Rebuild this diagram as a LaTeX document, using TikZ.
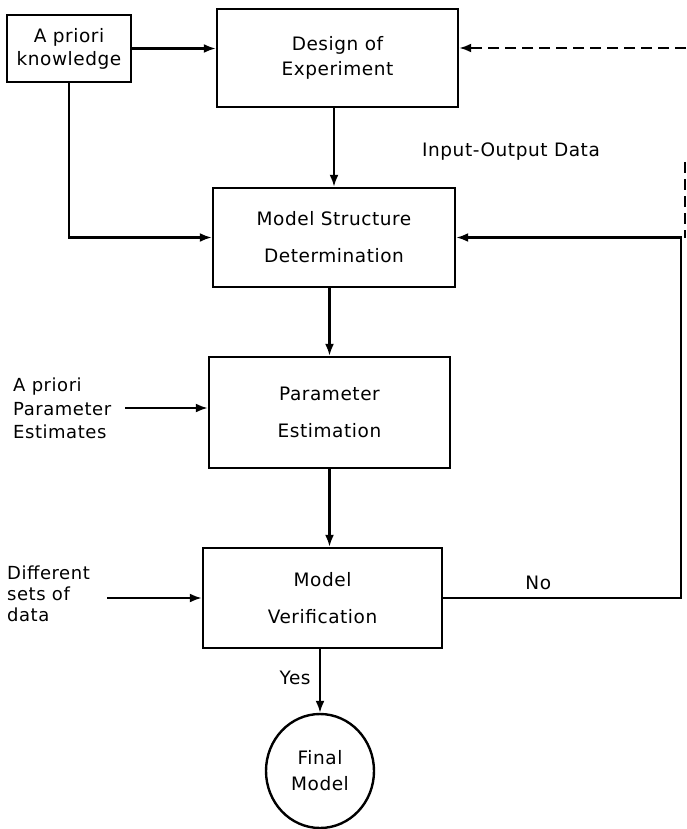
\documentclass[tikz,border=0pt]{standalone}
\usepackage{fontspec}
\setmainfont{DejaVu Sans}[LetterSpace=3]
\usetikzlibrary{arrows.meta,shapes.geometric}
\tikzset{
  ln/.style={line width=2.2pt},
  arr/.style={ln,-{Latex[length=12pt,width=9pt]}},
  box/.style={draw,line width=2.4pt,align=center,inner sep=0pt},
  bigtxt/.style={font=\fontsize{18.5}{37}\selectfont},
  midtxt/.style={font=\fontsize{18.5}{25}\selectfont},
  sidetxt/.style={align=left,inner sep=0pt,anchor=west},
}
\begin{document}
\begin{tikzpicture}[x=1pt,y=-1pt]
\useasboundingbox (0,0) rectangle (686,829);
% boxes
\node[box,font=\fontsize{18.5}{23}\selectfont,minimum width=124pt,minimum height=67pt] (apk) at (69,48.5) {A priori\\knowledge};
\node[box,midtxt,minimum width=241pt,minimum height=98pt] (doe) at (337.5,58) {Design of\\Experiment};
\node[box,bigtxt,minimum width=242pt,minimum height=99pt] (msd) at (334,237.5) {Model Structure\\Determination};
\node[box,bigtxt,minimum width=241pt,minimum height=111pt] (pe) at (329.5,412.5) {Parameter\\Estimation};
\node[box,bigtxt,minimum width=239pt,minimum height=100pt] (mv) at (322.5,598) {Model\\Verification};
\node[draw,line width=2.4pt,ellipse,minimum width=108pt,minimum height=114pt,inner sep=0pt,align=center,font=\fontsize{18.5}{26}\selectfont] (fm) at (320,771) {Final\\Model};
% side texts
\node[sidetxt,font=\fontsize{18}{23.5}\selectfont] (ape) at (13,408.5) {A priori\\Parameter\\Estimates};
\node[sidetxt,font=\fontsize{18}{21}\selectfont] (dsd) at (7,594) {Different\\sets of\\data};
\node[font=\fontsize{18.5}{22}\selectfont,inner sep=0pt] (iod) at (511,152) {Input-Output Data};
% coordinates
\coordinate (dtop) at (686,48);
\coordinate (dv1) at (685,162);
\coordinate (dv2) at (685,238);
\coordinate (fbx) at (681,600);
\coordinate (apin) at (125,408);
\coordinate (dsin) at (107,598);
% connectors
\draw[arr] (apk.east) -- (apk.east -| doe.west);
\draw[arr,dash pattern=on 11pt off 6pt] (dtop) -- (dtop -| doe.east);
\draw[ln,dash pattern=on 11pt off 6pt] (dv1) -- (dv2);
\draw[arr] (doe.south -| msd.north) -- (msd.north);
\draw[arr] (apk.south) |- (msd.west);
\draw[arr] (msd.south -| pe.north) -- (pe.north);
\draw[arr] (apin) -- (apin -| pe.west);
\draw[arr] (pe.south) -- (pe.south |- mv.north);
\draw[arr] (dsin) -- (mv.west);
\draw[arr] (mv.east) -- node[above=4pt,font=\fontsize{18.5}{22}\selectfont,pos=0.4] (no) {No} (mv.east -| fbx) |- (msd.east);
\draw[arr] (mv.south -| fm.north) -- node[left=5pt,font=\fontsize{18.5}{22}\selectfont,pos=0.45] (yes) {Yes} (fm.north);
\end{tikzpicture}
\end{document}
